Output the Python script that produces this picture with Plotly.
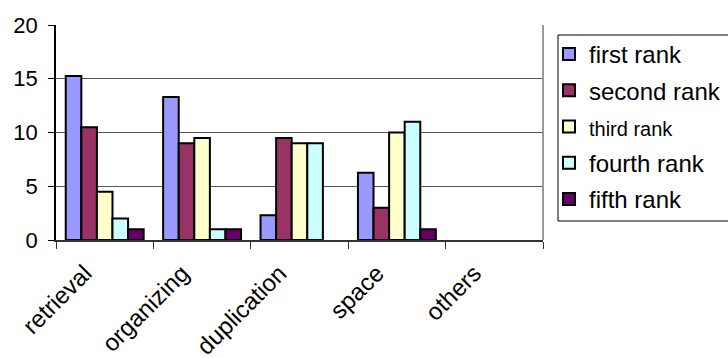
import plotly.graph_objects as go

categories = ["retrieval", "organizing", "duplication", "space", "others"]
series_names = ["first rank", "second rank", "third rank", "fourth rank", "fifth rank"]
first_rank = [15.25, 13.3, 2.3, 6.25, 0]
second_rank = [10.5, 9.0, 9.5, 3.0, 0]
third_rank = [4.5, 9.5, 9.0, 10.0, 0]
fourth_rank = [2.0, 1.0, 9.0, 11.0, 0]
fifth_rank = [1.0, 1.0, 0, 1.0, 0]
series_values = [first_rank, second_rank, third_rank, fourth_rank, fifth_rank]
series_colors = ["#9999FF", "#993366", "#FFFFCC", "#CCFFFF", "#660066"]
legend_sizes = [24, 24, 20, 24, 24]
y_ticks = [0, 5, 10, 15, 20]

FONT = "Liberation Sans, Arial, sans-serif"

# plot area in pixels
L, R, T, B = 56, 543, 25, 240
W, H = 728, 358


def px_x(x):
    return (x - L) / (R - L)


def px_y(y):
    return (B - y) / (B - T)


fig = go.Figure()
for i, (name, vals, color, fs) in enumerate(zip(series_names, series_values,
                                                 series_colors, legend_sizes)):
    # empty bars get no outline so nothing is stroked along the baseline
    widths = [0 if v == 0 else 2 for v in vals]
    fig.add_trace(go.Bar(
        x=categories, y=vals,
        name=f"<span style='font-size:{fs}px'>{name}</span>",
        legendgroup=f"g{i}",
        marker=dict(color=color, line=dict(color="black", width=widths)),
    ))

fig.update_layout(
    width=W, height=H,
    margin=dict(l=L, r=W - R, t=T, b=H - B, autoexpand=False),
    paper_bgcolor="white", plot_bgcolor="white",
    barmode="group", bargap=0.2, bargroupgap=0,
    font=dict(family=FONT, size=22, color="black"),
    showlegend=True,
    legend=dict(
        x=549 / W, xanchor="left", xref="container",
        y=1 - 32 / H, yanchor="top", yref="container",
        borderwidth=0, bgcolor="rgba(0,0,0,0)",
        font=dict(family=FONT, size=24, color="black"),
        tracegroupgap=2, itemwidth=30, maxheight=1.0,
    ),
    xaxis=dict(
        type="category", categoryorder="array", categoryarray=categories,
        tickson="boundaries", ticks="outside", ticklen=7, tickcolor="#333",
        tickangle=-45, showline=True, linecolor="#333", linewidth=1.5,
        showgrid=False, tickfont=dict(family=FONT, size=24),
        ticklabelshift=-20, ticklabelstandoff=8, automargin=False,
    ),
    yaxis=dict(
        range=[0, 20], tickvals=y_ticks, ticks="outside", ticklen=6,
        tickcolor="black", showline=True, linecolor="black", linewidth=1.5,
        showgrid=True, gridcolor="#555", gridwidth=1, zeroline=False,
        tickfont=dict(family=FONT, size=22), ticklabelstandoff=6,
        automargin=False,
    ),
    shapes=[
        # right edge of the plot area
        dict(type="line", xref="paper", yref="paper", x0=1, x1=1, y0=0, y1=1,
             line=dict(color="#999", width=2)),
        # legend frame
        dict(type="rect", xref="paper", yref="paper",
             x0=px_x(558), x1=px_x(740), y0=px_y(221), y1=px_y(35),
             line=dict(color="black", width=1), fillcolor="rgba(0,0,0,0)"),
    ],
)

fig.write_html("out.html")
